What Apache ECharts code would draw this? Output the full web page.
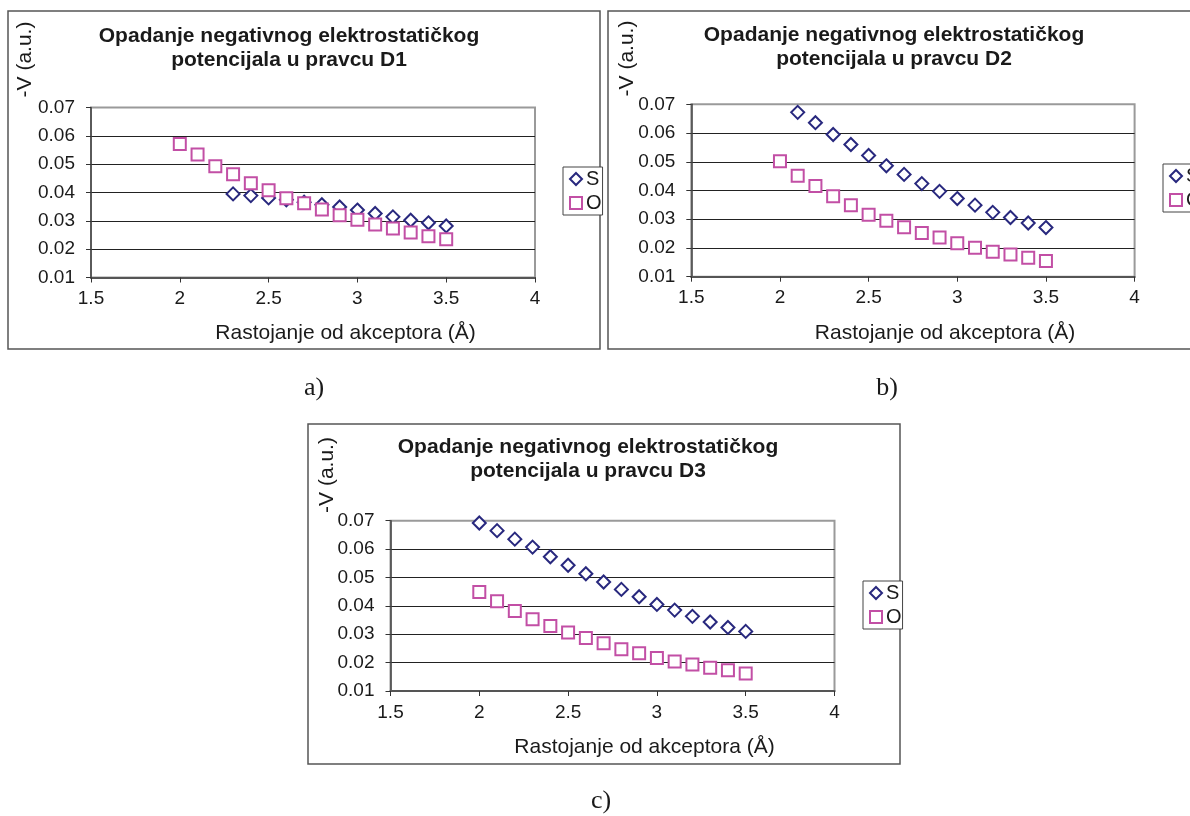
<!DOCTYPE html>
<html>
<head>
<meta charset="utf-8">
<script src="https://cdn.jsdelivr.net/npm/echarts@6/dist/echarts.min.js"></script>
<style>
html,body{margin:0;padding:0;background:#fff;}
#chart{width:1190px;height:816px;}
</style>
</head>
<body>
<div id="chart"></div>
<script>
// ---------- data ----------
const titleA = 'Opadanje negativnog elektrostatičkog\npotencijala u pravcu D1';
const titleB = 'Opadanje negativnog elektrostatičkog\npotencijala u pravcu D2';
const titleC = 'Opadanje negativnog elektrostatičkog\npotencijala u pravcu D3';
const yAxisName = '-V (a.u.)';
const xAxisName = 'Rastojanje od akceptora (Å)';
const seriesNames = ['S', 'O'];
const panelLabels = ['a)', 'b)', 'c)'];

// D1
const d1_S_x = [2.3, 2.4, 2.5, 2.6, 2.7, 2.8, 2.9, 3.0, 3.1, 3.2, 3.3, 3.4, 3.5];
const d1_S_y = [0.0395, 0.0389, 0.0381, 0.0374, 0.0366, 0.0357, 0.0349, 0.0338, 0.0326, 0.0314, 0.0302, 0.0293, 0.0282];
const d1_O_x = [2.0, 2.1, 2.2, 2.3, 2.4, 2.5, 2.6, 2.7, 2.8, 2.9, 3.0, 3.1, 3.2, 3.3, 3.4, 3.5];
const d1_O_y = [0.0571, 0.0534, 0.0493, 0.0464, 0.0433, 0.0408, 0.0380, 0.0362, 0.0340, 0.0320, 0.0304, 0.0287, 0.0273, 0.0259, 0.0246, 0.0235];

// D2
const d2_S_x = [2.1, 2.2, 2.3, 2.4, 2.5, 2.6, 2.7, 2.8, 2.9, 3.0, 3.1, 3.2, 3.3, 3.4, 3.5];
const d2_S_y = [0.0672, 0.0636, 0.0595, 0.0560, 0.0522, 0.0486, 0.0456, 0.0424, 0.0397, 0.0372, 0.0349, 0.0324, 0.0306, 0.0287, 0.0271];
const d2_O_x = [2.0, 2.1, 2.2, 2.3, 2.4, 2.5, 2.6, 2.7, 2.8, 2.9, 3.0, 3.1, 3.2, 3.3, 3.4, 3.5];
const d2_O_y = [0.0502, 0.0451, 0.0416, 0.0380, 0.0349, 0.0316, 0.0295, 0.0272, 0.0252, 0.0236, 0.0216, 0.0201, 0.0187, 0.0177, 0.0166, 0.0155];

// D3
const d3_S_x = [2.0, 2.1, 2.2, 2.3, 2.4, 2.5, 2.6, 2.7, 2.8, 2.9, 3.0, 3.1, 3.2, 3.3, 3.4, 3.5];
const d3_S_y = [0.0692, 0.0665, 0.0635, 0.0607, 0.0573, 0.0543, 0.0513, 0.0484, 0.0458, 0.0432, 0.0405, 0.0385, 0.0363, 0.0343, 0.0324, 0.0310];
const d3_O_x = [2.0, 2.1, 2.2, 2.3, 2.4, 2.5, 2.6, 2.7, 2.8, 2.9, 3.0, 3.1, 3.2, 3.3, 3.4, 3.5];
const d3_O_y = [0.0449, 0.0416, 0.0382, 0.0353, 0.0329, 0.0306, 0.0287, 0.0268, 0.0247, 0.0233, 0.0216, 0.0204, 0.0193, 0.0182, 0.0173, 0.0162];

// axis ticks
const xMin = 1.5, xMax = 4, xStep = 0.5;
const yMin = 0.01, yMax = 0.07, yStep = 0.01;

// ---------- styling ----------
const FONT = '"Liberation Sans", Arial, sans-serif';
const TXT = '#1a1a1a';
const S_COLOR = '#28287e';
const O_COLOR = '#c24fa5';

function pairs(xs, ys) { return xs.map((x, i) => [x, ys[i]]); }

const panels = [
  { title: titleA, S: pairs(d1_S_x, d1_S_y), O: pairs(d1_O_x, d1_O_y),
    grid: { left: 91, top: 107.5, width: 444, height: 170 },
    titleX: 289, titleY: 24, yNameX: 25.5, yNameY: 59.5, xNameX: 345.5, xNameY: 333,
    legend: { left: 563, top: 167 },
    frame: { x: 8, y: 11, w: 592, h: 338 }, label: { x: 314, y: 388, t: panelLabels[0] } },
  { title: titleB, S: pairs(d2_S_x, d2_S_y), O: pairs(d2_O_x, d2_O_y),
    grid: { left: 691.3, top: 104.3, width: 443.3, height: 172.4 },
    titleX: 894, titleY: 23, yNameX: 627, yNameY: 58.5, xNameX: 945, xNameY: 333,
    legend: { left: 1163, top: 164 },
    frame: { x: 608, y: 11, w: 700, h: 338 }, label: { x: 887, y: 388, t: panelLabels[1] } },
  { title: titleC, S: pairs(d3_S_x, d3_S_y), O: pairs(d3_O_x, d3_O_y),
    grid: { left: 390.5, top: 520.7, width: 444, height: 170.3 },
    titleX: 588, titleY: 435, yNameX: 327.5, yNameY: 475, xNameX: 644.5, xNameY: 747,
    legend: { left: 863, top: 581 },
    frame: { x: 308, y: 424, w: 592, h: 340 }, label: { x: 601, y: 801, t: panelLabels[2] } }
];

const option = {
  backgroundColor: '#fff',
  animation: false,
  title: [], grid: [], xAxis: [], yAxis: [], series: [], legend: [], graphic: []
};

panels.forEach((p, i) => {
  option.title.push({
    text: p.title, left: p.titleX, top: p.titleY, textAlign: 'center', padding: 0,
    textStyle: { fontFamily: FONT, fontSize: 21, fontWeight: 'bold', color: TXT, lineHeight: 24 }
  });
  option.grid.push(Object.assign({ show: true, borderColor: '#9a9a9a', borderWidth: 2, backgroundColor: 'transparent', containLabel: false }, p.grid));
  option.xAxis.push({
    type: 'value', gridIndex: i, min: xMin, max: xMax, interval: xStep,
    axisLine: { show: true, onZero: false, lineStyle: { color: '#555', width: 2 } },
    axisTick: { show: true, length: 5, lineStyle: { color: '#333', width: 1 } },
    axisLabel: { margin: 12, fontFamily: FONT, fontSize: 19, color: TXT },
    splitLine: { show: false }
  });
  option.yAxis.push({
    type: 'value', gridIndex: i, min: yMin, max: yMax, interval: yStep,
    axisLine: { show: true, onZero: false, lineStyle: { color: '#444', width: 1.5 } },
    axisTick: { show: true, length: 5, lineStyle: { color: '#333', width: 1 } },
    axisLabel: { margin: 16, fontFamily: FONT, fontSize: 19, color: TXT, formatter: v => v.toFixed(2) },
    splitLine: { show: true, showMinLine: false, showMaxLine: false, lineStyle: { color: '#222', width: 1 } }
  });
  option.series.push({
    name: seriesNames[0], type: 'scatter', xAxisIndex: i, yAxisIndex: i,
    symbol: 'diamond', symbolSize: 13, data: p.S, z: 3,
    itemStyle: { color: '#fff', borderColor: S_COLOR, borderWidth: 2, opacity: 1 }
  });
  option.series.push({
    name: seriesNames[1], type: 'scatter', xAxisIndex: i, yAxisIndex: i,
    symbol: 'rect', symbolSize: 12, data: p.O, z: 4,
    itemStyle: { color: '#fff', borderColor: O_COLOR, borderWidth: 2, opacity: 1 }
  });
  option.legend.push({
    data: seriesNames, orient: 'vertical', left: p.legend.left, top: p.legend.top,
    itemWidth: 12, itemHeight: 12, itemGap: 4, padding: [2, 1, 2, 6],
    borderColor: '#444', borderWidth: 1, backgroundColor: '#fff',
    selectedMode: false,
    textStyle: { fontFamily: FONT, fontSize: 20, color: TXT, padding: [0, 0, 0, -1] }
  });
  option.graphic.push({
    type: 'rect', z: -10, silent: true,
    shape: { x: p.frame.x, y: p.frame.y, width: p.frame.w, height: p.frame.h },
    style: { fill: 'none', stroke: '#555', lineWidth: 1.5 }
  });
  option.graphic.push({
    type: 'text', x: p.yNameX, y: p.yNameY, rotation: Math.PI / 2, silent: true,
    style: { text: yAxisName, fontFamily: FONT, fontSize: 21, fill: TXT, align: 'center', verticalAlign: 'middle' }
  });
  option.graphic.push({
    type: 'text', x: p.xNameX, y: p.xNameY, silent: true,
    style: { text: xAxisName, fontFamily: FONT, fontSize: 21, fill: TXT, align: 'center', verticalAlign: 'middle' }
  });
  option.graphic.push({
    type: 'text', x: p.label.x, y: p.label.y, silent: true,
    style: { text: p.label.t, fontFamily: '"Liberation Serif", "Times New Roman", serif', fontSize: 26, fill: TXT, align: 'center', verticalAlign: 'middle' }
  });
});

const chart = echarts.init(document.getElementById('chart'), null, { renderer: 'canvas' });
chart.setOption(option);
</script>
</body>
</html>
